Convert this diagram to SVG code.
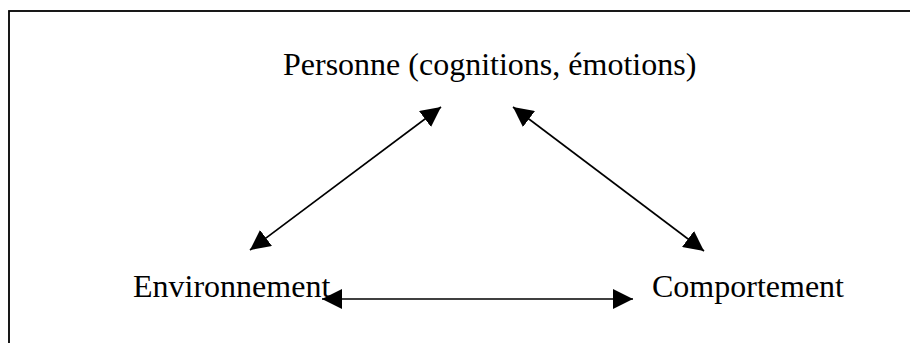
<svg xmlns="http://www.w3.org/2000/svg" width="910" height="343" viewBox="0 0 910 343">
  <style>
    .frame { fill: #ffffff; stroke: #000000; stroke-width: 1.8; }
    .label { font-family: "Liberation Serif", "Times New Roman", serif; font-size: 32px; fill: #000000; }
    .link { stroke: #000000; stroke-width: 1.6; fill: none; marker-start: url(#head); marker-end: url(#head); }
  </style>
  <defs>
    <marker id="head" viewBox="0 0 20 20" refX="20" refY="10" markerWidth="20" markerHeight="20" markerUnits="userSpaceOnUse" orient="auto-start-reverse">
      <path d="M0,0 L20,10 L0,20 Z" fill="#000000"/>
    </marker>
  </defs>
  <rect width="910" height="343" fill="#ffffff"/>
  <!-- frame: its right and bottom edges run past the page -->
  <rect class="frame" x="9" y="11" width="1000" height="400"/>

  <g id="personne">
    <text class="label" x="283" y="75">Personne (cognitions, émotions)</text>
  </g>
  <g id="environnement">
    <text class="label" x="133" y="297">Environnement</text>
  </g>
  <g id="comportement">
    <text class="label" x="652" y="297">Comportement</text>
  </g>

  <g id="connectors">
    <line class="link" x1="250" y1="250" x2="441" y2="107"/>
    <line class="link" x1="513" y1="107" x2="704" y2="251"/>
    <line class="link" x1="322" y1="299" x2="633" y2="299"/>
  </g>
</svg>
